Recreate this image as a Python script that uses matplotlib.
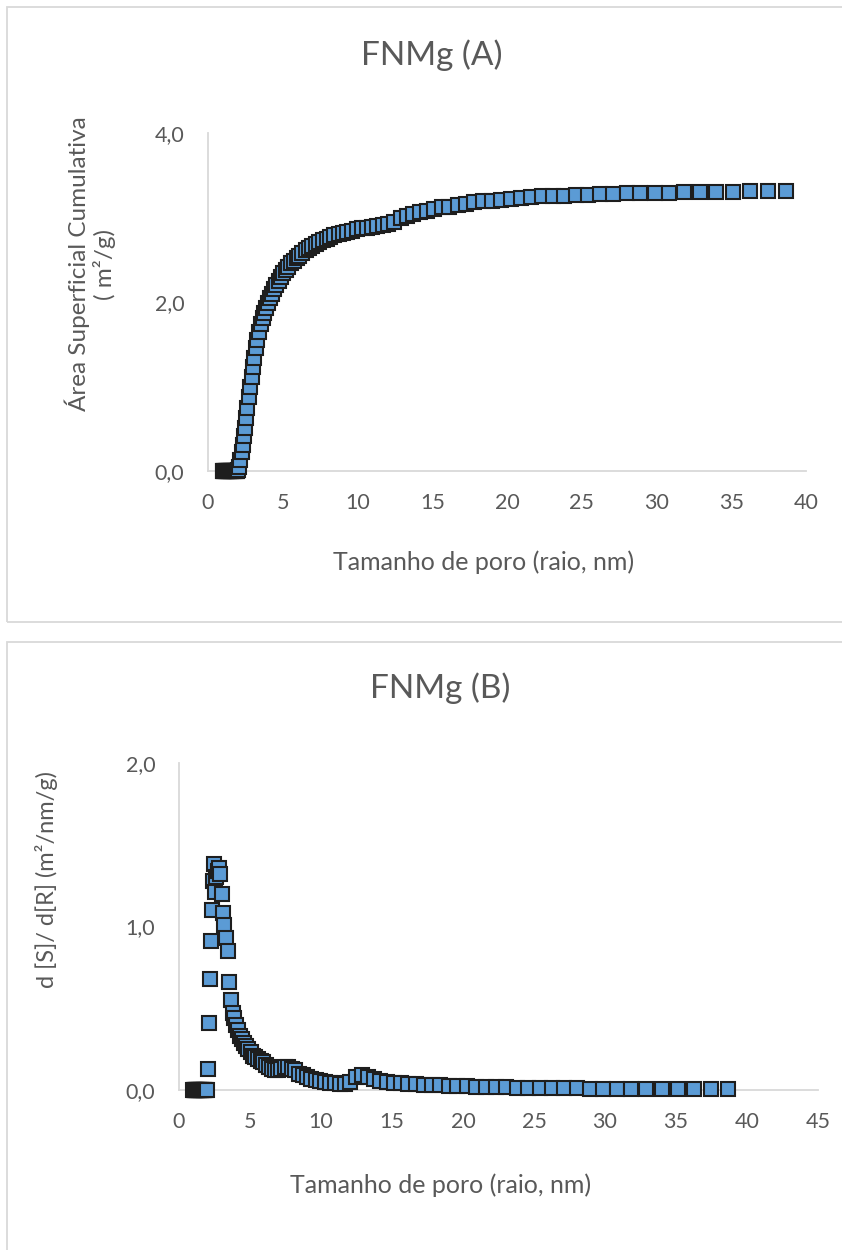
import matplotlib
matplotlib.use("Agg")
import matplotlib.pyplot as plt
from matplotlib.patches import Rectangle

# ---------------- data ----------------
radius_nm = [1.00, 1.03, 1.07, 1.10, 1.14, 1.18, 1.21, 1.25, 1.30, 1.34,
             1.38, 1.43, 1.47, 1.52, 1.57, 1.62, 1.68, 1.73, 1.79, 1.85,
             1.91, 1.97,
             2.04, 2.10, 2.17, 2.25, 2.32, 2.40, 2.47, 2.56, 2.64, 2.73,
             2.82, 2.91, 3.00, 3.10, 3.20, 3.31, 3.42, 3.53, 3.65, 3.77,
             3.89, 4.02, 4.15, 4.29, 4.43, 4.57, 4.73, 4.88, 5.04,
             5.21, 5.38, 5.55, 5.74, 5.93, 6.12, 6.32, 6.53, 6.74, 6.97,
             7.20, 7.43, 7.68, 7.93, 8.19, 8.46, 8.74, 9.02, 9.32, 9.63,
             9.94, 10.27, 10.61, 10.96, 11.32, 11.69, 12.07, 12.47, 12.88, 13.30,
             13.74, 14.19, 14.66, 15.14, 15.64,
             16.15, 16.69, 17.23, 17.80, 18.38, 18.99, 19.61, 20.26, 20.93, 21.61,
             22.32, 23.06, 23.82, 24.60, 25.41, 26.24, 27.10, 28.00, 28.92, 29.87,
             30.85, 31.86, 32.91, 33.99, 35.11, 36.26, 37.46, 38.69]

cumulative_area = [0.0] * 22 + [
    0.01, 0.05, 0.13, 0.22, 0.31, 0.41, 0.51, 0.63, 0.75, 0.87,
    0.99, 1.11, 1.23, 1.34, 1.45, 1.55, 1.65, 1.74, 1.81, 1.87,
    1.93, 1.99, 2.05, 2.10, 2.15, 2.20, 2.25, 2.30, 2.34,
    2.38, 2.42, 2.46, 2.49, 2.52, 2.55, 2.58, 2.61, 2.64, 2.66,
    2.69, 2.71, 2.73, 2.75, 2.77, 2.79, 2.80, 2.82, 2.83, 2.84,
    2.86, 2.87, 2.88, 2.89, 2.90, 2.91, 2.92, 2.95, 2.99, 3.02,
    3.04, 3.06, 3.08, 3.10, 3.12,
    3.13, 3.15, 3.16, 3.18, 3.19, 3.20, 3.21, 3.22, 3.23, 3.24,
    3.25, 3.255, 3.26, 3.265, 3.27, 3.275, 3.28, 3.285, 3.29, 3.29,
    3.295, 3.30, 3.30, 3.305, 3.305, 3.31, 3.31, 3.31]

dS_dR = [0.0] * 22 + [
    0.13, 0.41, 0.68, 0.91, 1.10, 1.28, 1.38, 1.21, 1.30, 1.34,
    1.36, 1.32, 1.20, 1.08, 1.01, 0.93, 0.85, 0.66, 0.55, 0.47,
    0.44, 0.40, 0.37, 0.33, 0.31, 0.29, 0.27, 0.25, 0.23,
    0.21, 0.20, 0.19, 0.18, 0.17, 0.15, 0.14, 0.13, 0.12, 0.12,
    0.13, 0.14, 0.14, 0.13, 0.12, 0.10, 0.09, 0.08, 0.07, 0.06,
    0.055, 0.05, 0.045, 0.04, 0.035, 0.035, 0.05, 0.08, 0.09, 0.08,
    0.065, 0.055, 0.05, 0.045, 0.04,
    0.037, 0.035, 0.032, 0.030, 0.028, 0.026, 0.024, 0.022, 0.020, 0.018,
    0.017, 0.016, 0.015, 0.014, 0.013, 0.012, 0.011, 0.010, 0.009, 0.009,
    0.008, 0.007, 0.007, 0.006, 0.005, 0.005, 0.004, 0.004]

title_a = "FNMg (A)"
title_b = "FNMg (B)"
xlabel = "Tamanho de poro (raio, nm)"
ylabel_a = "Área Superficial Cumulativa\n( m²/g)"
ylabel_b = "d [S]/ d[R] (m²/nm/g)"
xticks_a = [0, 5, 10, 15, 20, 25, 30, 35, 40]
xticks_b = [0, 5, 10, 15, 20, 25, 30, 35, 40, 45]
yticks_a = [0.0, 2.0, 4.0]
yticks_b = [0.0, 1.0, 2.0]

# ---------------- style ----------------
W, H = 842, 1250
plt.rcParams['font.family'] = ['Lato', 'DejaVu Sans']
TXT = '#595959'
AX = '#D9D9D9'
FACE = '#5B9BD5'
EDGE = '#1E1E1E'

fig = plt.figure(figsize=(W / 100, H / 100), dpi=100)
fig.patch.set_facecolor('white')


def fx(px):
    return px / W


def fy(py):
    return 1 - py / H


# chart-area frames
for (x0, y0, x1, y1) in [(7, 7, 860, 622), (7, 642, 860, 1270)]:
    fig.patches.append(Rectangle((fx(x0), fy(y1)), fx(x1) - fx(x0), fy(y0) - fy(y1),
                                 transform=fig.transFigure, fill=False,
                                 edgecolor=AX, linewidth=1.3, zorder=0))


def comma(v):
    return f"{v:.1f}".replace('.', ',')


def make_axes(box, xlim, ylim, xticks, yticks, xv, yv):
    left, right, top, bottom = box
    ax = fig.add_axes([fx(left), fy(bottom), fx(right) - fx(left), fy(top) - fy(bottom)])
    ax.plot(xv, yv, linestyle='none', marker='s', markersize=9.6,
            markerfacecolor=FACE, markeredgecolor=EDGE, markeredgewidth=1.5,
            clip_on=False, zorder=3)
    ax.set_xlim(*xlim)
    ax.set_ylim(*ylim)
    ax.set_xticks(xticks)
    ax.set_xticklabels([str(t) for t in xticks])
    ax.set_yticks(yticks)
    ax.set_yticklabels([comma(t) for t in yticks])
    for s in ['top', 'right']:
        ax.spines[s].set_visible(False)
    for s in ['left', 'bottom']:
        ax.spines[s].set_color(AX)
        ax.spines[s].set_linewidth(1.3)
    ax.tick_params(axis='both', length=0, labelsize=15.5, labelcolor=TXT)
    ax.tick_params(axis='x', pad=16)
    ax.tick_params(axis='y', pad=17)
    ax.patch.set_alpha(0)
    return ax


ax1 = make_axes((208, 806, 133, 471), (0, 40), (0, 4), xticks_a, yticks_a,
                radius_nm, cumulative_area)
ax2 = make_axes((179, 818, 763, 1090), (0, 45), (0, 2), xticks_b, yticks_b,
                radius_nm, dS_dR)

fig.text(fx(432), fy(55), title_a, ha='center', va='center', fontsize=24, color=TXT)
fig.text(fx(440), fy(688), title_b, ha='center', va='center', fontsize=24, color=TXT)
fig.text(fx(484), fy(562), xlabel, ha='center', va='center', fontsize=18, color=TXT)
fig.text(fx(441), fy(1185), xlabel, ha='center', va='center', fontsize=18, color=TXT)
fig.text(fx(90), fy(264), ylabel_a, ha='center', va='center', rotation=90,
         multialignment='center', fontsize=17.5, color=TXT, linespacing=1.15)
fig.text(fx(47), fy(880), ylabel_b, ha='center', va='center', rotation=90,
         fontsize=17, color=TXT)

fig.savefig('out.png', dpi=100)
